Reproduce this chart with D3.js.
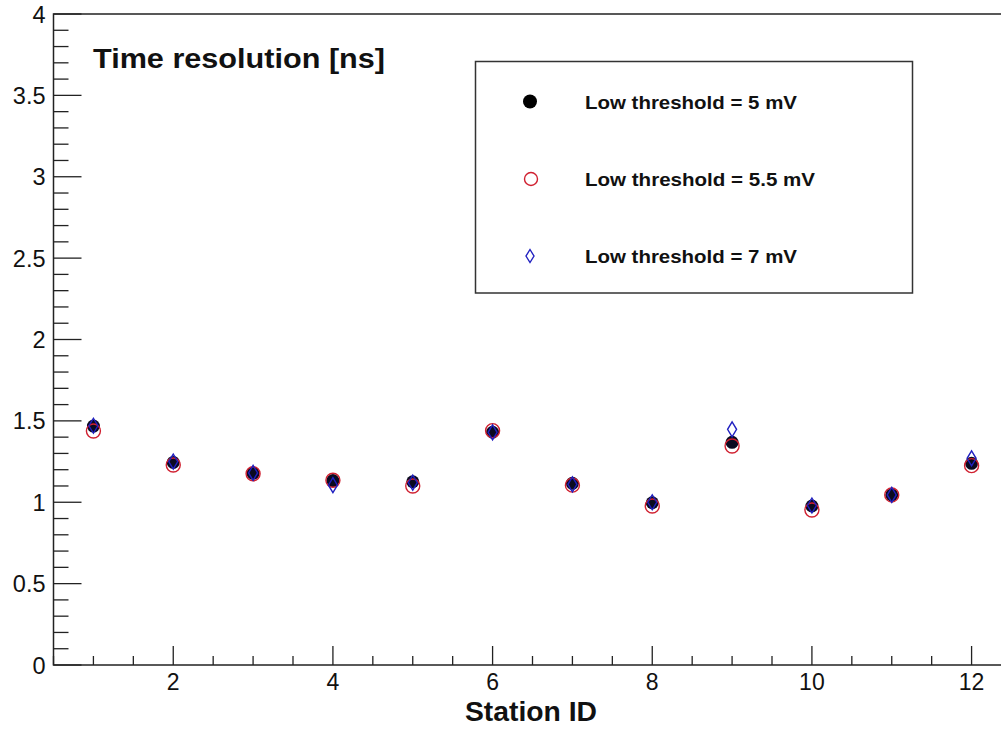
<!DOCTYPE html>
<html>
<head>
<meta charset="utf-8">
<script src="https://cdn.jsdelivr.net/npm/d3@7"></script>
<style>
  body { margin: 0; background: #fff; }
  text { font-family: "Liberation Sans", Arial, sans-serif; fill: #111; }
</style>
</head>
<body>
<div id="chart"></div>
<script>
// station ids and time resolution [ns] per low threshold setting
const stations = [1, 2, 3, 4, 5, 6, 7, 8, 9, 10, 11, 12];
const res5mV   = [1.468, 1.245, 1.178, 1.133, 1.126, 1.430, 1.116, 0.997, 1.368, 0.977, 1.045, 1.239];
const res55mV  = [1.438, 1.229, 1.175, 1.135, 1.100, 1.440, 1.105, 0.977, 1.346, 0.952, 1.045, 1.225];
const res7mV   = [1.470, 1.250, 1.180, 1.105, 1.120, 1.430, 1.110, 1.000, 1.448, 0.980, 1.045, 1.270];
const xTickLabels = [2, 4, 6, 8, 10, 12];
const yTickLabels = [0, 0.5, 1, 1.5, 2, 2.5, 3, 3.5, 4];
const legendLabels = ['Low threshold = 5 mV', 'Low threshold = 5.5 mV', 'Low threshold = 7 mV'];

const dim = { width: 1001, height: 731, left: 53.5, right: 1011.5, top: 14, bottom: 665 };

const svg = d3.select('#chart')
    .append('svg')
        .attr('width', dim.width)
        .attr('height', dim.height);

const x = d3.scaleLinear().domain([0.5, 12.5]).range([dim.left, dim.right]);
const y = d3.scaleLinear().domain([0, 4]).range([dim.bottom, dim.top]);

// frame
svg.append('rect')
    .attr('x', dim.left)
    .attr('y', dim.top)
    .attr('width', dim.right - dim.left)
    .attr('height', dim.bottom - dim.top)
    .attr('fill', 'none')
    .attr('stroke', '#222')
    .attr('stroke-width', 1.5);

// y axis: inward ticks (ROOT style)
const yAxis = svg.append('g').attr('transform', `translate(${dim.left}, 0)`);
yAxis.selectAll('.minor')
    .data(d3.range(0, 41).map(i => i / 10))
    .enter()
    .append('line')
        .attr('x1', 0)
        .attr('x2', d => (Math.round(d * 10) % 5 === 0 ? 28 : 15))
        .attr('y1', d => y(d))
        .attr('y2', d => y(d))
        .attr('stroke', '#222')
        .attr('stroke-width', 1.3);
yAxis.selectAll('.lbl')
    .data(yTickLabels)
    .enter()
    .append('text')
        .attr('x', -8)
        .attr('y', d => y(d) + 8.5)
        .attr('text-anchor', 'end')
        .attr('font-size', '23.5px')
        .text(d => d);

// x axis
const xAxis = svg.append('g').attr('transform', `translate(0, ${dim.bottom})`);
xAxis.selectAll('.tick')
    .data(d3.range(1, 25).map(i => i / 2).filter(d => x(d) <= dim.width))
    .enter()
    .append('line')
        .attr('x1', d => x(d))
        .attr('x2', d => x(d))
        .attr('y1', 0)
        .attr('y2', d => (d % 2 === 0 ? -19 : -9))
        .attr('stroke', '#222')
        .attr('stroke-width', 1.3);
xAxis.selectAll('.lbl')
    .data(xTickLabels)
    .enter()
    .append('text')
        .attr('x', d => x(d))
        .attr('y', 25)
        .attr('text-anchor', 'middle')
        .attr('font-size', '23px')
        .text(d => d);

svg.append('text')
    .attr('x', 465)
    .attr('y', 721)
    .attr('font-size', '27px')
    .attr('font-weight', 'bold')
    .attr('textLength', 132)
    .attr('lengthAdjust', 'spacingAndGlyphs')
    .text('Station ID');

svg.append('text')
    .attr('x', 93)
    .attr('y', 68)
    .attr('font-size', '27px')
    .attr('font-weight', 'bold')
    .attr('textLength', 292)
    .attr('lengthAdjust', 'spacingAndGlyphs')
    .text('Time resolution [ns]');

// markers
const diamond = (cx, cy, w, h) => `M${cx},${cy - h}L${cx + w},${cy}L${cx},${cy + h}L${cx - w},${cy}Z`;

const plotPoints = (values, kind) => {
    const g = svg.append('g');
    values.forEach((v, i) => {
        const cx = x(stations[i]), cy = y(v);
        if (kind === 'black') {
            g.append('circle').attr('cx', cx).attr('cy', cy).attr('r', 6.5).attr('fill', '#0a0a20');
        } else if (kind === 'red') {
            g.append('circle').attr('cx', cx).attr('cy', cy).attr('r', 7)
                .attr('fill', 'none').attr('stroke', '#d02030').attr('stroke-width', 1.4);
        } else {
            g.append('path').attr('d', diamond(cx, cy, 4.5, 7.5))
                .attr('fill', 'none').attr('stroke', '#2020c0').attr('stroke-width', 1.4);
        }
    });
};

plotPoints(res5mV, 'black');
plotPoints(res55mV, 'red');
plotPoints(res7mV, 'blue');

// legend
const leg = svg.append('g');
leg.append('rect')
    .attr('x', 475.5)
    .attr('y', 61.5)
    .attr('width', 437)
    .attr('height', 231.5)
    .attr('fill', '#fff')
    .attr('stroke', '#333')
    .attr('stroke-width', 1.5);

const legRows = [101.5, 179, 256];
const legWidths = [212, 230, 212];
leg.append('circle').attr('cx', 530).attr('cy', legRows[0]).attr('r', 7).attr('fill', '#000');
leg.append('circle').attr('cx', 531).attr('cy', legRows[1]).attr('r', 6.5)
    .attr('fill', 'none').attr('stroke', '#d02030').attr('stroke-width', 1.4);
leg.append('path').attr('d', diamond(530, legRows[2], 4, 6.5))
    .attr('fill', 'none').attr('stroke', '#2020c0').attr('stroke-width', 1.4);

leg.selectAll('.legtxt')
    .data(legendLabels)
    .enter()
    .append('text')
        .attr('x', 585)
        .attr('y', (d, i) => legRows[i] + 7)
        .attr('font-size', '19px')
        .attr('font-weight', 'bold')
        .attr('textLength', (d, i) => legWidths[i])
        .attr('lengthAdjust', 'spacingAndGlyphs')
        .text(d => d);
</script>
</body>
</html>
